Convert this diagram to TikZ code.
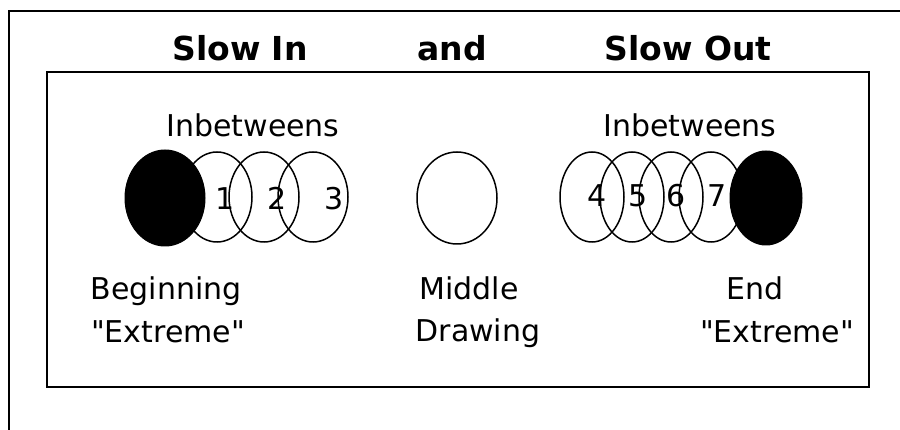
\documentclass[tikz,border=0pt]{standalone}
\usepackage{fontspec}
\setmainfont{DejaVu Sans}[Ligatures=TeXOff]
\begin{document}
\begin{tikzpicture}[x=1pt, y=-1pt,
        frame/.style={line width=2pt},
        inbetween/.style={line width=1.5pt},
        extreme/.style={fill=black, draw=black, line width=1pt},
        lbl/.style={anchor=base, inner sep=0pt, font=\fontsize{30}{36}\selectfont},
        num/.style={anchor=base, inner sep=0pt, font=\fontsize{30}{36}\selectfont},
        title/.style={anchor=base, inner sep=0pt, font=\fontsize{33}{40}\selectfont\bfseries}]
        \useasboundingbox (0, 0) rectangle (900, 430);

        % frames
        \draw[frame] (9, 440) -- (9, 11) -- (910, 11);
        \draw[frame] (47, 72) rectangle (869, 387);

        \node[title] (slowin) at (240, 61) {Slow In};
        \node[title] (and) at (452, 61) {and};
        \node[title] (slowout) at (688, 61) {Slow Out};

        % slow in
        \node[lbl] (inbl) at (253, 137) {Inbetweens};
        \draw[inbetween] (313, 197) ellipse (35 and 45);
        \draw[inbetween] (264, 197) ellipse (35 and 45);
        \draw[inbetween] (217, 197) ellipse (35 and 45);
        \filldraw[extreme] (165, 198) ellipse (40 and 48);
        \node[num] (n1) at (225, 210) {1};
        \node[num] (n2) at (277, 210) {2};
        \node[num] (n3) at (334, 210) {3};
        \node[lbl] (begin) at (166, 300) {Beginning};
        \node[lbl] (beginx) at (168, 343) {"Extreme"};

        % middle
        \draw[inbetween] (457, 198) ellipse (40 and 46);
        \node[lbl] (middle) at (469, 300) {Middle};
        \node[lbl] (drawing) at (478, 342) {Drawing};

        % slow out
        \node[lbl] (inbr) at (690, 137) {Inbetweens};
        \draw[inbetween] (592, 197) ellipse (32 and 45);
        \draw[inbetween] (632, 197) ellipse (32 and 45);
        \draw[inbetween] (671, 197) ellipse (32 and 45);
        \draw[inbetween] (711, 197) ellipse (32 and 45);
        \filldraw[extreme] (766, 198) ellipse (36 and 47);
        \node[num] (n4) at (597, 207) {4};
        \node[num] (n5) at (638, 207) {5};
        \node[num] (n6) at (676, 207) {6};
        \node[num] (n7) at (717, 207) {7};
        \node[lbl] (end) at (755, 300) {End};
        \node[lbl] (endx) at (777, 343) {"Extreme"};
    \end{tikzpicture}
\end{document}
